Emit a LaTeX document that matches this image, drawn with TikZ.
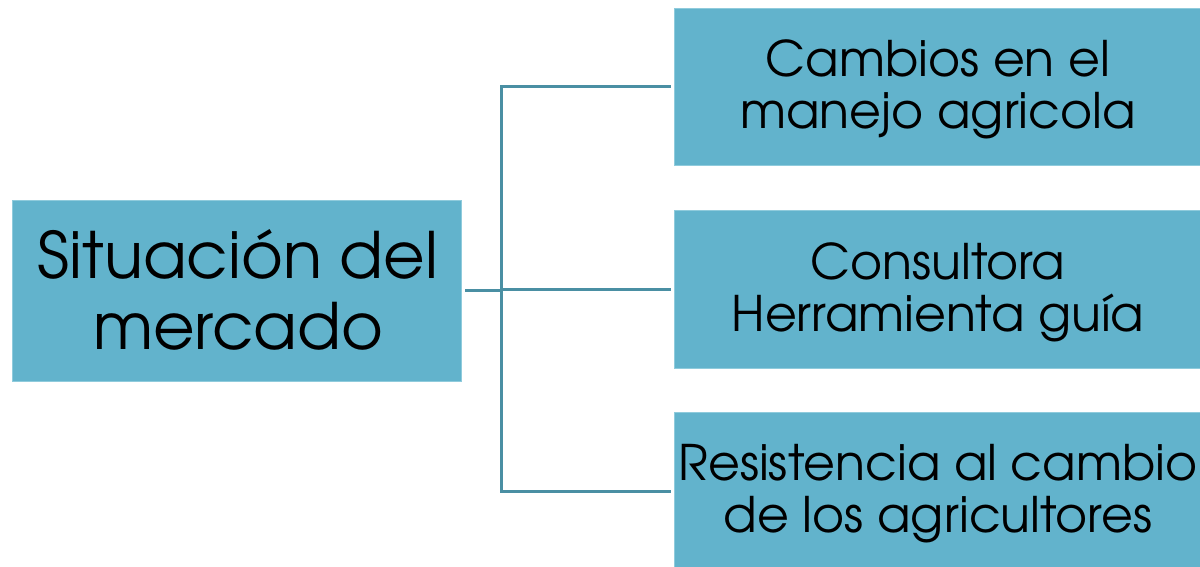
\documentclass[tikz,border=0pt]{standalone}
\usepackage{fontspec}
\setmainfont{TeX Gyre Adventor}
\definecolor{boxfill}{HTML}{62B3CC}
\definecolor{boxedge}{HTML}{8FCBDC}
\definecolor{lineclr}{HTML}{4A8FA3}
\tikzset{
  box/.style={rectangle, fill=boxfill, draw=boxedge, line width=0.8pt, inner sep=0pt},
  bigtxt/.style={align=center, font=\fontsize{64}{71}\selectfont, inner sep=0pt},
  smalltxt/.style={align=center, font=\fontsize{49}{52}\selectfont, inner sep=0pt},
  conn/.style={draw=lineclr, line width=3pt}
}
\begin{document}
\begin{tikzpicture}[x=1pt,y=-1pt]
\useasboundingbox (0,0) rectangle (1200,567);
\fill[white] (0,0) rectangle (1200,567);
% boxes
\node[box, minimum width=449pt, minimum height=181pt] (L) at (236.5,290.5) {};
\node[box, minimum width=540pt, minimum height=157pt] (b1) at (944,86.5) {};
\node[box, minimum width=540pt, minimum height=158pt] (b2) at (944,289) {};
\node[box, minimum width=540pt, minimum height=158pt] (b3) at (944,491) {};
% texts
\node[bigtxt] (tL) at (238,290) {Situación del\\mercado};
\node[smalltxt] (t1) at (938,89) {Cambios en el\\manejo agricola};
\node[smalltxt] (t2) at (938,292) {Consultora\\Herramienta guía};
\node[smalltxt] (t3) at (938,494) {Resistencia al cambio\\de los agricultores};
% connectors
\coordinate (j) at (501,289);
\draw[conn] ([xshift=4pt]L.east) -- (j |- L.east);
\draw[conn] ([xshift=-3pt]b1.west) -| (j) |- ([xshift=-3pt]b3.west);
\draw[conn] (j) -- ([xshift=-3pt]b2.west);
\end{tikzpicture}
\end{document}
